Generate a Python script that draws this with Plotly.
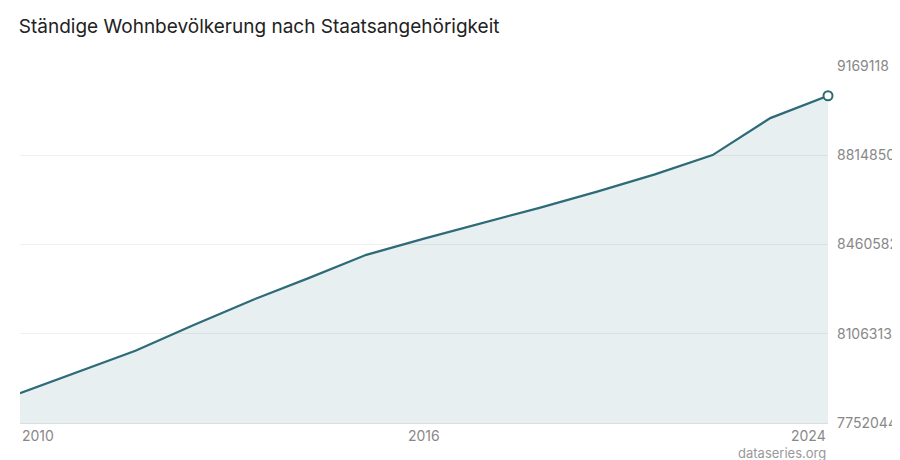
import plotly.graph_objects as go

years = list(range(2010, 2025))
population = [7870134, 7954662, 8039060, 8139631, 8237666, 8327126, 8419550, 8484130,
              8544527, 8606033, 8670300, 8738791, 8815385, 8962258, 9051029]
y_ticks = [7752044, 8106313, 8460582, 8814850, 9169118]
x_tick_pos = [2010, 2017, 2024]
x_tick_text = ["2010", "2016", "2024"]

line_c = "#2e6b78"
fig = go.Figure()
fig.add_trace(go.Scatter(x=years, y=population, mode="lines", line=dict(color=line_c, width=2.2),
                         fill="tozeroy", fillcolor="rgba(46,107,120,0.11)", hoverinfo="skip"))
fig.add_trace(go.Scatter(x=[years[-1]], y=[population[-1]], mode="markers",
                         marker=dict(size=9, color="white", line=dict(color=line_c, width=2)),
                         cliponaxis=False))
anchors = ["left", "center", "right"]
for p, t, a in zip(x_tick_pos, x_tick_text, anchors):
    fig.add_annotation(x=p, y=0, yref="paper", text=t, showarrow=False, xanchor=a, yanchor="top",
                       yshift=-2, font=dict(size=14, color="#888"))
fig.add_annotation(x=1, y=0, xref="paper", yref="paper", text="dataseries.org", showarrow=False,
                   xanchor="right", yanchor="top", yshift=-20, font=dict(size=13, color="#999"))
fig.update_layout(
    width=900, height=460, showlegend=False, plot_bgcolor="white", paper_bgcolor="white",
    margin=dict(l=12, r=80, t=58, b=45),
    font=dict(family="Inter", color="#888"),
    title=dict(text="Ständige Wohnbevölkerung nach Staatsangehörigkeit", x=0.012, xanchor="left",
               y=0.975, yanchor="top", font=dict(size=19, color="#222")),
    xaxis=dict(range=[2010, 2024], showticklabels=False, showgrid=False, zeroline=False,
               showline=True, linecolor="#ddd", automargin=False),
    yaxis=dict(range=[y_ticks[0], y_ticks[-1]], tickvals=y_ticks, side="right", tickformat="d",
               showgrid=True, gridcolor="#f0f0f0", zeroline=False, ticks="", automargin=False,
               tickfont=dict(size=14, color="#888"), ticklabelstandoff=8),
)
fig.write_html("out.html")
